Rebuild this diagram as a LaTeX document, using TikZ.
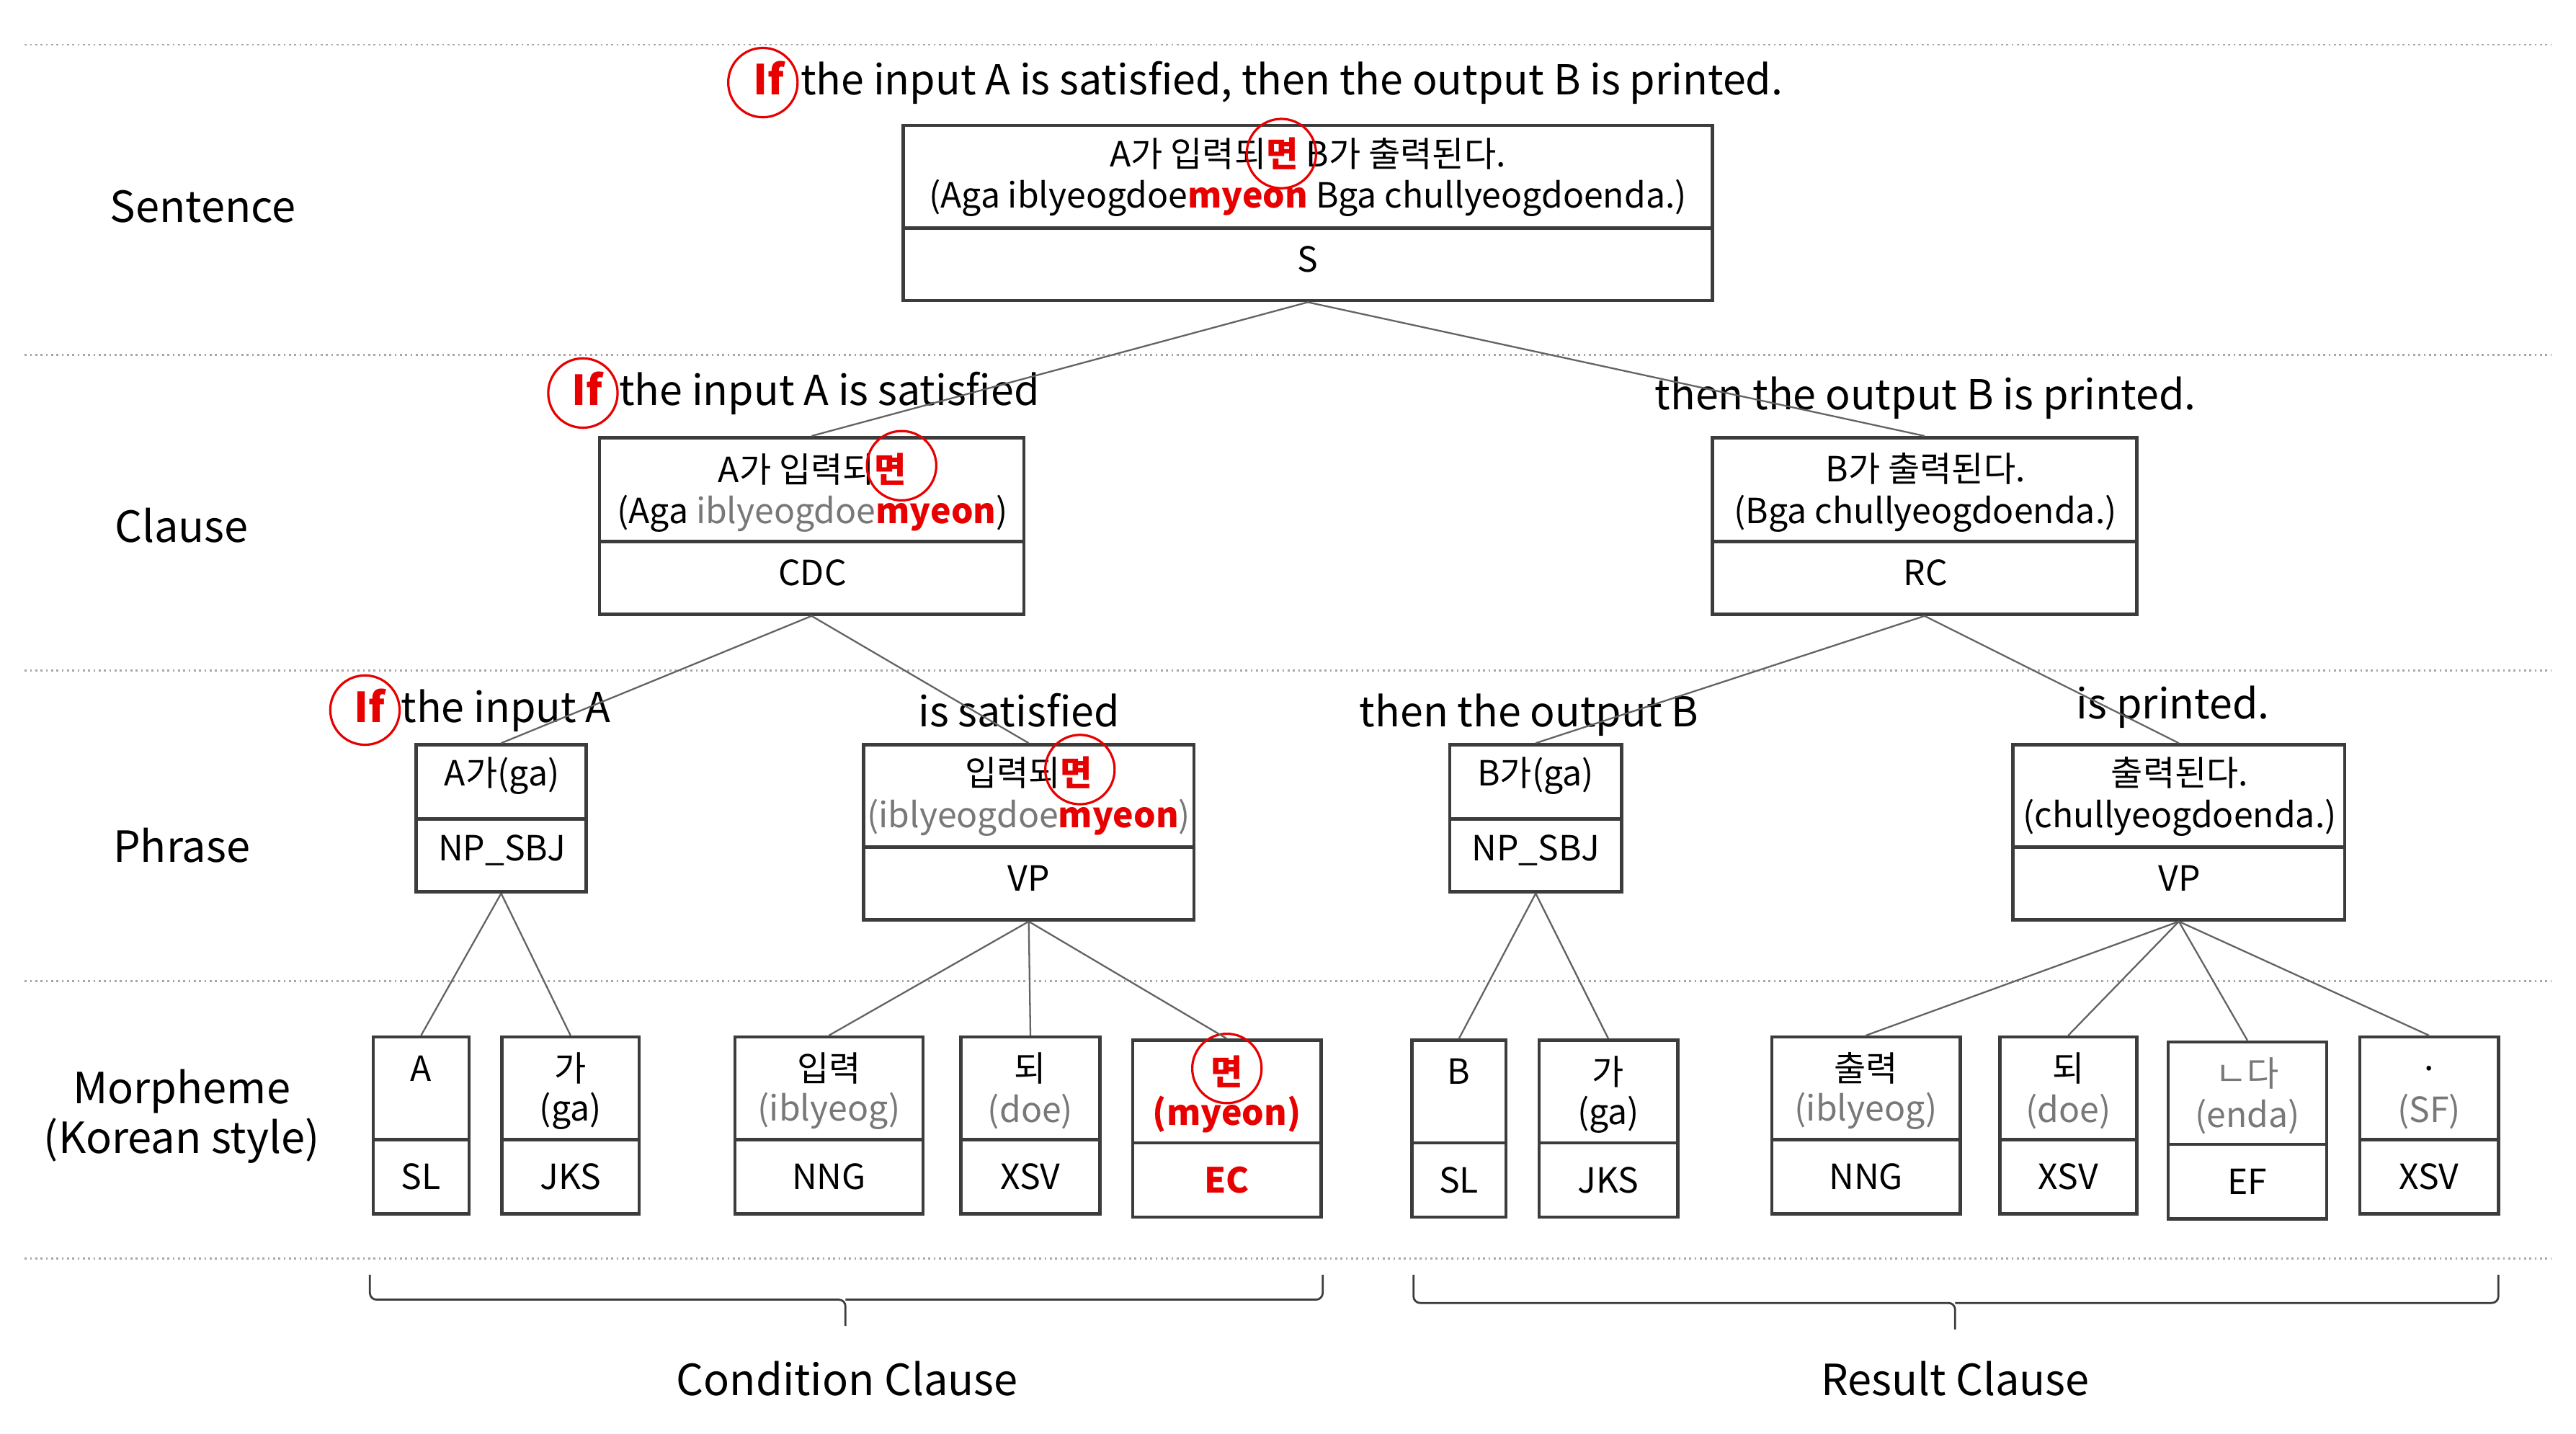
\documentclass[tikz,border=0pt]{standalone}
\usepackage{fontspec}
\setmainfont{Noto Sans CJK KR}
\usetikzlibrary{fit}
\definecolor{myred}{RGB}{232,0,0}
\definecolor{mygray}{RGB}{120,120,120}
\definecolor{boxc}{RGB}{60,60,60}
\newcommand{\morphbox}[9]{% name x1 y1 x2 y2 div line1 line2 tag
  \node[bx,fit={(#2,#3)(#4,#5)}] (#1) {};
  \draw[dv] (#2,#6) -- (#4,#6);
  \node[tx] at ({(#2+#4)/2},#3+19) {#7};
  \node[tx] at ({(#2+#4)/2},#3+45) {#8};
  \node[tx] at ({(#2+#4)/2},{(#6+#5)/2}) {#9};}
\begin{document}
\begin{tikzpicture}[x=0.5pt,y=-0.5pt,
  sep/.style={draw=gray!70,densely dotted,line width=0.6pt},
  lvl/.style={font=\fontsize{13}{15}\selectfont},
  hd/.style={font=\fontsize{12.5}{14}\selectfont,inner sep=0pt},
  tx/.style={font=\fontsize{10.5}{12}\selectfont,inner sep=0pt},
  bx/.style={draw=boxc,line width=1pt,inner sep=0pt},
  dv/.style={draw=boxc,line width=1pt},
  con/.style={draw=boxc!80,line width=0.5pt},
  circ/.style={circle,draw=myred,line width=0.7pt,minimum size=21pt,inner sep=0pt},
  rd/.style={text=myred,font=\bfseries},
  gr/.style={text=mygray}]
\useasboundingbox (0,0) rectangle (1560,868);
% separators
\foreach \y in {27,215,406,594,762} \draw[sep] (15,\y) -- (1545,\y);
% level labels
\node[lvl] (l1) at (123,125) {Sentence};
\node[lvl] (l2) at (110,318) {Clause};
\node[lvl] (l3) at (110,512) {Phrase};
\node[lvl,align=center] (l4) at (110,676) {Morpheme\\(Korean style)};
% ---------- Sentence
\node[hd,anchor=west] (h0) at (456,50) {{\bfseries\color{myred}If}\, the input A is satisfied, then the output B is printed.};
\node[circ] (c0) at (462,50) {};
\node[bx,fit={(547,76)(1037,182)}] (S) {};
\draw[dv] (547,138) -- (1037,138);
\node[tx] (S1) at (792,93) {A가 입력되{\color{myred}\bfseries 면} B가 출력된다.};
\node[tx] (S2) at (792,120) {(Aga iblyeogdoe{\color{myred}\bfseries myeon} Bga chullyeogdoenda.)};
\node[tx] (S3) at (792,157) {S};
\node[circ] (cS) at (776,93) {};
% ---------- Clause
\node[hd,anchor=west] (h1) at (346,238) {{\bfseries\color{myred}If}\, the input A is satisfied};
\node[circ] (c1) at (353,238) {};
\node[bx,fit={(363,265)(620,372)}] (CDC) {};
\draw[dv] (363,328) -- (620,328);
\node[tx] at (492,284) {A가 입력되{\color{myred}\bfseries 면}};
\node[tx] at (492,311) {(Aga {\color{mygray}iblyeogdoe}{\color{myred}\bfseries myeon})};
\node[tx] at (492,347) {CDC};
\node[circ] (c2) at (546,282) {};
\node[hd] (h2) at (1166,241) {then the output B is printed.};
\node[bx,fit={(1037,265)(1294,372)}] (RC) {};
\draw[dv] (1037,328) -- (1294,328);
\node[tx] at (1166,284) {B가 출력된다.};
\node[tx] at (1166,311) {(Bga chullyeogdoenda.)};
\node[tx] at (1166,347) {RC};
\draw[con] (S.south) -- (CDC.north);
\draw[con] (S.south) -- (RC.north);
% ---------- Phrase
\node[hd,anchor=west] (h3) at (214,430) {{\bfseries\color{myred}If}\, the input A};
\node[circ] (c3) at (221,430) {};
\node[bx,fit={(252,451)(355,540)}] (NP1) {};
\draw[dv] (252,496) -- (355,496);
\node[tx] at (304,470) {A가(ga)};
\node[tx] at (304,515) {NP\_SBJ};
\node[hd] (h4) at (617,430) {is satisfied};
\node[bx,fit={(523,451)(723,557)}] (VP1) {};
\draw[dv] (523,513) -- (723,513);
\node[tx] at (623,468) {입력되{\color{myred}\bfseries 면}};
\node[tx] at (623,495) {{\color{mygray}(iblyeogdoe}{\color{myred}\bfseries myeon}{\color{mygray})}};
\node[tx] at (623,532) {VP};
\node[circ] (c4) at (654,466) {};
\node[hd] (h5) at (926,433) {then the output B};
\node[bx,fit={(878,451)(982,540)}] (NP2) {};
\draw[dv] (878,496) -- (982,496);
\node[tx] at (930,470) {B가(ga)};
\node[tx] at (930,515) {NP\_SBJ};
\node[hd] (h6) at (1316,428) {is printed.};
\node[bx,fit={(1219,451)(1420,557)}] (VP2) {};
\draw[dv] (1219,513) -- (1420,513);
\node[tx] at (1320,468) {출력된다.};
\node[tx] at (1320,495) {(chullyeogdoenda.)};
\node[tx] at (1320,532) {VP};
\draw[con] (CDC.south) -- (NP1.north);
\draw[con] (CDC.south) -- (VP1.north);
\draw[con] (RC.south) -- (NP2.north);
\draw[con] (RC.south) -- (VP2.north);
% ---------- Morphemes
\morphbox{mA}{226}{628}{284}{735}{690}{A}{}{SL}
\morphbox{mga}{304}{628}{387}{735}{690}{가}{(ga)}{JKS}
\morphbox{mib}{445}{628}{559}{735}{690}{입력}{\color{mygray}(iblyeog)}{NNG}
\morphbox{mdoe}{582}{628}{666}{735}{690}{되}{\color{mygray}(doe)}{XSV}
\morphbox{mmy}{686}{630}{800}{737}{692}{\color{myred}\bfseries 면}{\color{myred}\bfseries (myeon)}{\color{myred}\bfseries EC}
\node[circ] (c5) at (743,647) {};
\morphbox{mB}{855}{630}{912}{737}{692}{B}{}{SL}
\morphbox{mga2}{932}{630}{1016}{737}{692}{가}{(ga)}{JKS}
\morphbox{mch}{1073}{628}{1187}{735}{690}{출력}{\color{mygray}(iblyeog)}{NNG}
\morphbox{mdoe2}{1211}{628}{1294}{735}{690}{되}{\color{mygray}(doe)}{XSV}
\morphbox{menda}{1313}{631}{1409}{738}{693}{\color{mygray}ㄴ다}{\color{mygray}(enda)}{EF}
\morphbox{msf}{1429}{628}{1513}{735}{690}{.}{\color{mygray}(SF)}{XSV}
\draw[con] (NP1.south) -- (mA.north);
\draw[con] (NP1.south) -- (mga.north);
\draw[con] (VP1.south) -- (mib.north);
\draw[con] (VP1.south) -- (mdoe.north);
\draw[con] (VP1.south) -- (mmy.north);
\draw[con] (NP2.south) -- (mB.north);
\draw[con] (NP2.south) -- (mga2.north);
\draw[con] (VP2.south) -- (mch.north);
\draw[con] (VP2.south) -- (mdoe2.north);
\draw[con] (VP2.south) -- (menda.north);
\draw[con] (VP2.south) -- (msf.north);
% braces
\draw[boxc,line width=0.6pt,rounded corners=2pt] (224,772) -- (224,787) -- (512,787) -- (512,803);
\draw[boxc,line width=0.6pt,rounded corners=2pt] (512,787) -- (801,787) -- (801,772);
\draw[boxc,line width=0.6pt,rounded corners=2pt] (856,772) -- (856,789) -- (1184,789) -- (1184,805);
\draw[boxc,line width=0.6pt,rounded corners=2pt] (1184,789) -- (1513,789) -- (1513,772);
\node[lvl] (cc) at (513,835) {Condition Clause};
\node[lvl] (rc) at (1184,835) {Result Clause};
\end{tikzpicture}
\end{document}
